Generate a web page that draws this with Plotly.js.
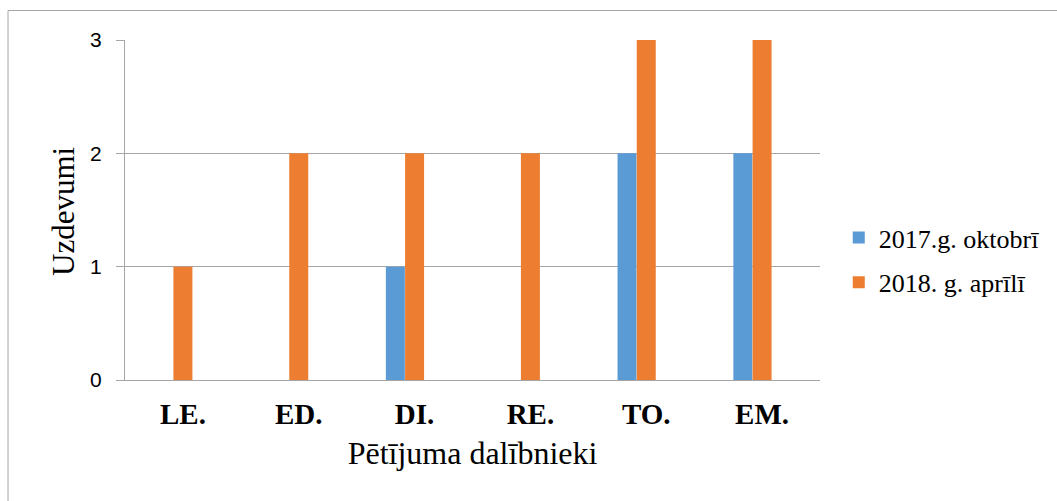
<!DOCTYPE html>
<html>
<head>
<meta charset="utf-8">
<script src="https://cdn.plot.ly/plotly-3.0.1.min.js"></script>
<style>html,body{margin:0;padding:0;background:#fff;}#chart{width:1057px;height:501px;}</style>
</head>
<body>
<div id="chart"></div>
<script>
const categories = ["LE.", "ED.", "DI.", "RE.", "TO.", "EM."];
const seriesNames = ["2017.g. oktobrī", "2018. g. aprīlī"];
const values2017 = [0, 0, 1, 0, 2, 2];
const values2018 = [1, 2, 2, 2, 3, 3];
const yTicks = [0, 1, 2, 3];

const gridColor = "#a6a6a6";
const serif = "'Liberation Serif', 'Times New Roman', serif";

const traces = [
  {type: "bar", name: seriesNames[0], x: categories, y: values2017,
   marker: {color: "#5b9bd5", line: {width: 0}}, width: 0.164, offset: -0.248, legendgroup: "a"},
  {type: "bar", name: seriesNames[1], x: categories, y: values2018,
   marker: {color: "#ed7d31", line: {width: 0}}, width: 0.164, offset: -0.082, legendgroup: "b"}
];

const layout = {
  width: 1057, height: 501,
  margin: {l: 125, r: 237, t: 40, b: 121},
  paper_bgcolor: "#fff", plot_bgcolor: "#fff",
  showlegend: true,
  legend: {x: 1.027, y: 0.353, xanchor: "left", yanchor: "middle",
           font: {family: serif, size: 26, color: "#000"},
           tracegroupgap: 8, traceorder: "grouped", bgcolor: "rgba(0,0,0,0)"},
  xaxis: {
    type: "category", range: [-0.5, 5.5],
    showline: true, linecolor: gridColor, linewidth: 1,
    ticks: "outside", ticklen: 0, tickcolor: "rgba(0,0,0,0)",
    tickfont: {family: serif, size: 29, color: "#000", weight: "bold"},
    ticklabelstandoff: 8,
    title: {text: "Pētījuma dalībnieki", font: {family: serif, size: 32, color: "#000"}, standoff: 12},
    fixedrange: true
  },
  yaxis: {
    range: [0, 3], tickvals: yTicks,
    showgrid: true, gridcolor: gridColor, gridwidth: 1,
    showline: true, linecolor: gridColor, linewidth: 1,
    zeroline: false,
    ticks: "outside", ticklen: 8, tickcolor: gridColor,
    tickfont: {family: "'Liberation Sans', Arial, sans-serif", size: 21, color: "#000"},
    ticklabelstandoff: 10,
    fixedrange: true
  },
  annotations: [
    {text: "Uzdevumi", textangle: -90, xref: "paper", yref: "paper",
     x: (63 - 125) / 695, y: (380 - 211) / 340, xanchor: "center", yanchor: "middle",
     showarrow: false, font: {family: serif, size: 31, color: "#000"}}
  ],
  shapes: [
    {type: "rect", xref: "paper", yref: "paper",
     x0: (8 - 125) / 695, x1: (1070 - 125) / 695,
     y0: (380 - 510) / 340, y1: (380 - 10.5) / 340,
     line: {color: "#a6a6a6", width: 1}, fillcolor: "rgba(0,0,0,0)", layer: "below"}
  ]
};

Plotly.newPlot("chart", traces, layout, {displayModeBar: false, staticPlot: true});
</script>
</body>
</html>
